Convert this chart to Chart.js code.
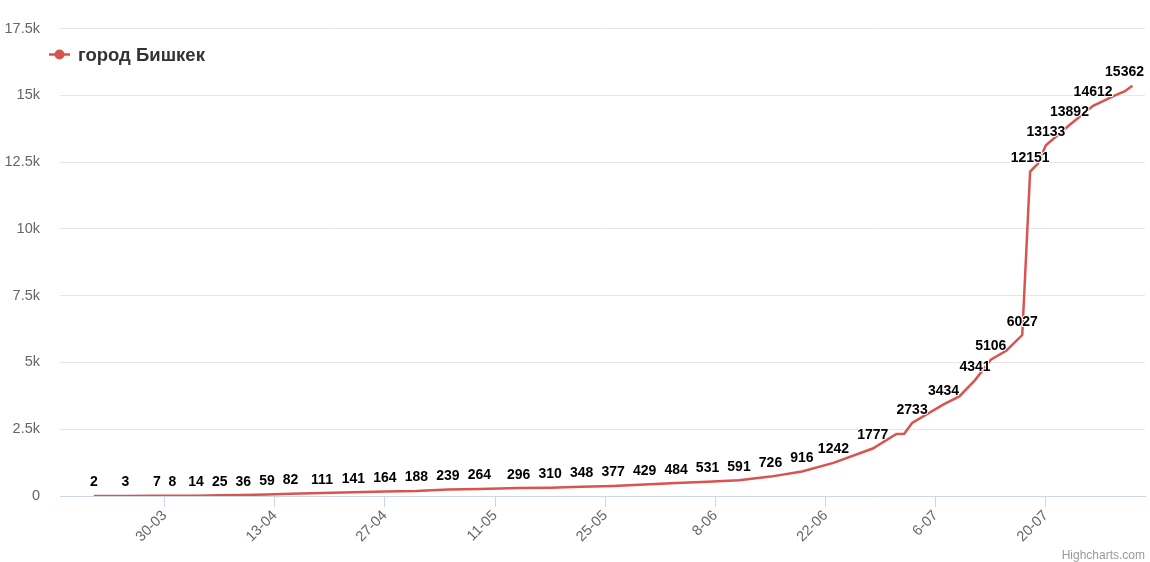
<!DOCTYPE html>
<html>
<head>
<meta charset="utf-8">
<script src="https://cdn.jsdelivr.net/npm/chart.js@4.4.0/dist/chart.umd.min.js"></script>
<style>
  html, body { margin: 0; padding: 0; background: #fff; }
  #wrap { width: 1150px; height: 562px; }
</style>
</head>
<body>
<div id="wrap"><canvas id="c" width="1150" height="562"></canvas></div>
<script>
// Bishkek cumulative cases (day-month, 2020)
const seriesName = 'город Бишкек';
const dates = [
  '21-03', '25-03', '29-03', '31-03', '03-04', '06-04', '09-04', '12-04', '15-04', '19-04',
  '23-04', '27-04', '01-05', '05-05', '09-05', '14-05', '18-05', '22-05', '26-05', '30-05',
  '03-06', '07-06', '11-06', '15-06', '19-06', '23-06', '28-06', '01-07', '02-07', '03-07',
  '07-07', '09-07', '11-07', '13-07', '15-07', '17-07', '18-07', '19-07', '20-07', '23-07',
  '26-07', '29-07', '30-07', '31-07'
];
const values = [
  2, 3, 7, 8, 14, 25, 36, 59, 82, 111,
  141, 164, 188, 239, 264, 296, 310, 348, 377, 429,
  484, 531, 591, 726, 916, 1242, 1777, 2325, 2330, 2733,
  3434, 3730, 4341, 5106, 5450, 6027, 12151, 12450, 13133, 13892,
  14612, 15030, 15150, 15362
];
const xTickLabels = ['30-03', '13-04', '27-04', '11-05', '25-05', '8-06', '22-06', '6-07', '20-07'];
const yTickLabels = ['0', '2.5k', '5k', '7.5k', '10k', '12.5k', '15k', '17.5k'];

const LINE = '#d9534f';
const FONT = '"Liberation Sans", Arial, Helvetica, sans-serif';

// days counted from 30-03
function dayOf(s) {
  const [d, m] = s.split('-').map(Number);
  return (Date.UTC(2020, m - 1, d) - Date.UTC(2020, 2, 30)) / 864e5;
}
const tickDays = xTickLabels.map(dayOf);

// data labels, hiding ones that overlap an earlier label (left to right)
const valueLabels = {
  id: 'valueLabels',
  afterDatasetsDraw(chart) {
    const { ctx, chartArea } = chart;
    const meta = chart.getDatasetMeta(0);
    ctx.save();
    ctx.font = 'bold 14px ' + FONT;
    ctx.textAlign = 'center';
    ctx.textBaseline = 'alphabetic';
    ctx.lineJoin = 'round';
    const shown = [];
    meta.data.forEach((pt, i) => {
      const text = String(values[i]);
      const w = ctx.measureText(text).width;
      let cx = Math.min(pt.x, chartArea.right - w / 2 - 1);
      cx = Math.max(cx, chartArea.left + w / 2 + 1);
      const base = pt.y - 9.5;
      const box = { l: cx - w / 2 - 2, r: cx + w / 2 + 2, t: base - 14, b: base + 3 };
      if (shown.some(b => box.l < b.r && box.r > b.l && box.t < b.b && box.b > b.t)) return;
      shown.push(box);
      ctx.strokeStyle = '#fff';
      ctx.lineWidth = 2;
      ctx.strokeText(text, cx, base);
      ctx.fillStyle = '#000';
      ctx.fillText(text, cx, base);
    });
    ctx.restore();
  }
};

// legend inside the plot + credits
const extras = {
  id: 'extras',
  afterDraw(chart) {
    const { ctx } = chart;
    ctx.save();
    ctx.strokeStyle = LINE;
    ctx.lineWidth = 2.5;
    ctx.beginPath();
    ctx.moveTo(49, 54.5);
    ctx.lineTo(70, 54.5);
    ctx.stroke();
    ctx.fillStyle = LINE;
    ctx.beginPath();
    ctx.arc(59.5, 54.5, 5, 0, Math.PI * 2);
    ctx.fill();
    ctx.fillStyle = '#333';
    ctx.font = 'bold 18.5px ' + FONT;
    ctx.textAlign = 'left';
    ctx.textBaseline = 'alphabetic';
    ctx.fillText(chart.data.datasets[0].label, 78, 61);
    ctx.fillStyle = '#999';
    ctx.font = '12px ' + FONT;
    ctx.textAlign = 'right';
    ctx.fillText('Highcharts.com', 1145, 559);
    ctx.restore();
  }
};

Chart.defaults.font.family = FONT;

new Chart(document.getElementById('c'), {
  type: 'line',
  data: {
    datasets: [{
      label: seriesName,
      data: dates.map((d, i) => ({ x: dayOf(d), y: values[i] })),
      borderColor: LINE,
      backgroundColor: LINE,
      borderWidth: 2.5,
      pointRadius: 0,
      tension: 0,
      fill: false
    }]
  },
  options: {
    responsive: false,
    animation: false,
    devicePixelRatio: 1,
    layout: { padding: { left: 0, right: 5, top: 26, bottom: 0 } },
    plugins: { legend: { display: false }, tooltip: { enabled: false } },
    scales: {
      x: {
        type: 'linear',
        min: -13.3,
        max: 124.6,
        afterBuildTicks: s => { s.ticks = tickDays.map(v => ({ value: v })); },
        afterFit: s => { s.height = 66; },
        border: { display: true, color: '#ccd6eb', width: 1 },
        grid: { drawOnChartArea: false, drawTicks: true, tickLength: 11, color: '#ccd6eb' },
        ticks: {
          autoSkip: false,
          maxRotation: 45,
          minRotation: 45,
          padding: 0,
          color: '#666',
          font: { size: 14.5 },
          callback: v => xTickLabels[tickDays.indexOf(v)]
        }
      },
      y: {
        min: 0,
        max: 17500,
        afterFit: s => { s.width = 60; },
        border: { display: false },
        grid: {
          drawTicks: false,
          color: c => (c.tick && c.tick.value === 0) ? 'rgba(0,0,0,0)' : '#e6e6e6'
        },
        ticks: {
          stepSize: 2500,
          padding: 20,
          color: '#666',
          font: { size: 14.5 },
          callback: (v, i) => yTickLabels[i]
        }
      }
    }
  },
  plugins: [valueLabels, extras]
});
</script>
</body>
</html>
